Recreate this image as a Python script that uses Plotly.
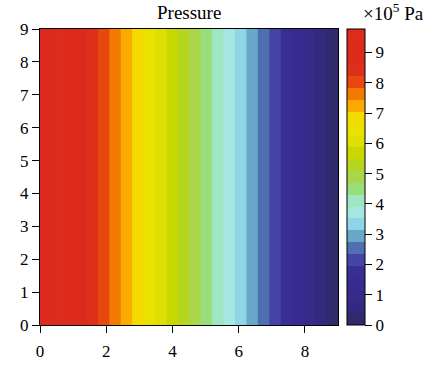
import plotly.graph_objects as go

# Data (pressure in 1e5 Pa, varies along x only)
x_pos = [0, 1, 2, 3, 4, 5, 6, 7, 8, 9]
y_pos = [0, 9]
pressure = [10.18, 9.05, 7.92, 6.79, 5.66, 4.52, 3.39, 2.26, 1.13, 0.0]
x_ticks = [0, 2, 4, 6, 8]
y_ticks = [0, 1, 2, 3, 4, 5, 6, 7, 8, 9]
cbar_ticks = [0, 1, 2, 3, 4, 5, 6, 7, 8, 9]

level_size = 0.3908
level_end = 9.77

band_colors = [
    "#2e2a6b", "#33297e", "#372a8a", "#382b90", "#3a2d96", "#4344a3",
    "#4f6fb0", "#6aa7c9", "#8dd6e6", "#a6e6e3", "#9fe6c3", "#9ade7c",
    "#a9d64a", "#b6d51e", "#c8d800", "#dde000", "#ebe100", "#f3da00",
    "#fbaa00", "#f27a00", "#e8470f", "#dd2f1a", "#db2b1c", "#de2a1b",
    "#dc2c1d", "#dc2b1e",
]

# stepwise colorscale: band k (k=0..24) sampled at (k+0.5)/25, top band at 1
n = 25
cscale = []
for k in range(n):
    lo = k / n
    hi = (k + 1) / n
    c = band_colors[k]
    cscale.append([lo, c])
    cscale.append([hi - (1e-6 if k == n - 1 else 1e-9), c])
cscale.append([1.0, band_colors[25]])
cscale = sorted(cscale, key=lambda v: v[0])

z = [pressure for _ in y_pos]

FONT = "Liberation Serif"
TICK_SIZE = 17
TITLE_SIZE = 19

fig = go.Figure(
    go.Contour(
        x=x_pos,
        y=y_pos,
        z=z,
        zmin=0,
        zmax=9.775,
        colorscale=cscale,
        contours=dict(start=0, end=level_end, size=level_size, coloring="fill", showlines=False),
        line=dict(width=0),
        hoverinfo="skip",
        colorbar=dict(
            thickness=18,
            lenmode="pixels",
            len=296,
            y=0,
            yanchor="bottom",
            ypad=0,
            x=1,
            xanchor="left",
            xpad=9,
            outlinecolor="black",
            outlinewidth=1,
            ticks="outside",
            ticklen=7,
            tickcolor="black",
            tickvals=cbar_ticks,
            tickprefix=" ",
            tickfont=dict(family=FONT, size=TICK_SIZE, color="black"),
        ),
    )
)

fig.update_layout(
    width=435,
    height=366,
    margin=dict(l=40, r=97, t=29, b=41, autoexpand=False),
    paper_bgcolor="white",
    plot_bgcolor="white",
    font=dict(family=FONT, size=TICK_SIZE, color="black"),
    showlegend=False,
    annotations=[
        dict(text="Pressure", xref="paper", yref="paper", x=0.5, y=1.057, yanchor="middle",
             xanchor="center", showarrow=False, font=dict(family=FONT, size=TITLE_SIZE, color="black")),
        dict(text="×10<sup>5</sup> Pa", xref="paper", yref="paper", x=1.078, y=1.057, yanchor="middle",
             xanchor="left", showarrow=False, font=dict(family=FONT, size=TITLE_SIZE, color="black")),
    ],
)
fig.update_xaxes(
    range=[0, 9], tickvals=x_ticks, ticks="outside", ticklen=7, tickcolor="black",
    showline=True, linecolor="black", linewidth=1, mirror=True, showgrid=False, zeroline=False,
    tickfont=dict(family=FONT, size=TICK_SIZE, color="black"), ticklabelstandoff=4, automargin=False,
)
fig.update_yaxes(
    range=[0, 9], tickvals=y_ticks, ticks="outside", ticklen=7, tickcolor="black",
    showline=True, linecolor="black", linewidth=1, mirror=True, showgrid=False, zeroline=False,
    tickfont=dict(family=FONT, size=TICK_SIZE, color="black"), automargin=False,
)

fig.write_html(
    "out.html",
    config={"displayModeBar": False},
    post_script="document.body.style.margin='0';document.body.style.overflow='hidden';",
)
